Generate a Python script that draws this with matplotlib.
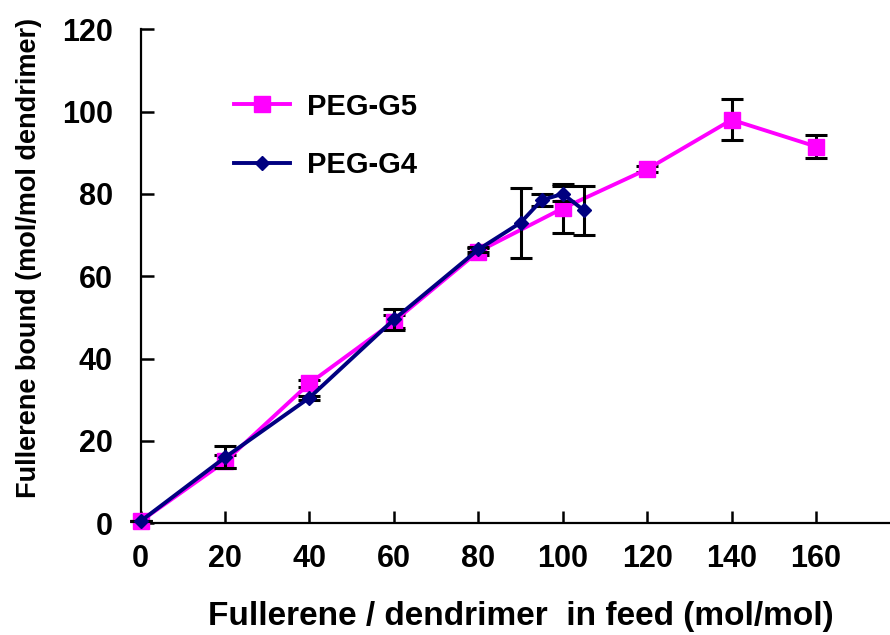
import matplotlib.pyplot as plt
import numpy as np

plt.rcParams["font.family"] = ["Liberation Sans", "DejaVu Sans"]
plt.rcParams["font.weight"] = "bold"

# PEG-G5 series
g5_x = [0, 20, 40, 60, 80, 100, 120, 140, 160]
g5_y = [0.5, 15, 34, 49, 66, 76.5, 86, 98, 91.5]
g5_err = [0, 1.5, 0.8, 1.5, 0.8, 6, 0.8, 5, 2.7]

# PEG-G4 series
g4_x = [0, 20, 40, 60, 80, 90, 95, 100, 105]
g4_y = [0.5, 16, 30.5, 49.5, 66.5, 73, 78.5, 80, 76]
g4_err = [0, 2.7, 0.5, 2.5, 0.5, 8.5, 1.5, 1.8, 6]

x_ticks = [0, 20, 40, 60, 80, 100, 120, 140, 160]
y_ticks = [0, 20, 40, 60, 80, 100, 120]


def main() -> None:
    fig = plt.figure(figsize=(8.9, 6.35), dpi=100)
    ax = fig.add_axes([0.158, 0.176, 0.842, 0.778])

    ax.errorbar(g5_x, g5_y, yerr=g5_err, color="#FF00FF", ecolor="black",
                elinewidth=2.2, capsize=8, capthick=2.2, lw=2.8, marker="s",
                markersize=12, markeredgecolor="#FF00FF", label="PEG-G5",
                clip_on=False, zorder=3)
    ax.errorbar(g4_x, g4_y, yerr=g4_err, color="#000080", ecolor="black",
                elinewidth=2.2, capsize=8, capthick=2.2, lw=2.8, marker="D",
                markersize=7.5, markeredgecolor="#000080", label="PEG-G4",
                clip_on=False, zorder=4)

    ax.set_xlim(0, 177.5)
    ax.set_ylim(0, 120)
    ax.set_xticks(x_ticks)
    ax.set_yticks(y_ticks)
    ax.tick_params(direction="in", length=9, width=1.8, labelsize=22)
    ax.tick_params(axis="x", pad=15)
    ax.tick_params(axis="y", pad=20)
    for lab in ax.get_xticklabels() + ax.get_yticklabels():
        lab.set_fontweight("bold")

    for side in ("top", "right"):
        ax.spines[side].set_visible(False)
    for side in ("left", "bottom"):
        ax.spines[side].set_linewidth(1.6)

    ax.set_xlabel("Fullerene / dendrimer  in feed (mol/mol)", fontsize=24,
                  fontweight="bold")
    ax.set_ylabel("Fullerene bound (mol/mol dendrimer)", fontsize=19.5,
                  fontweight="bold")
    ax.xaxis.set_label_coords(0.508, -0.158)
    ax.yaxis.set_label_coords(-0.131, 0.538)

    handles, labels = ax.get_legend_handles_labels()
    handles = [h[0] for h in handles]
    ax.legend(handles, labels, loc="upper left", bbox_to_anchor=(0.09, 0.925),
              frameon=False, handlelength=1.9, handletextpad=0.6,
              labelspacing=1.05, prop={"weight": "bold", "size": 21})

    fig.savefig("out.png", dpi=100)


if __name__ == "__main__":
    main()
